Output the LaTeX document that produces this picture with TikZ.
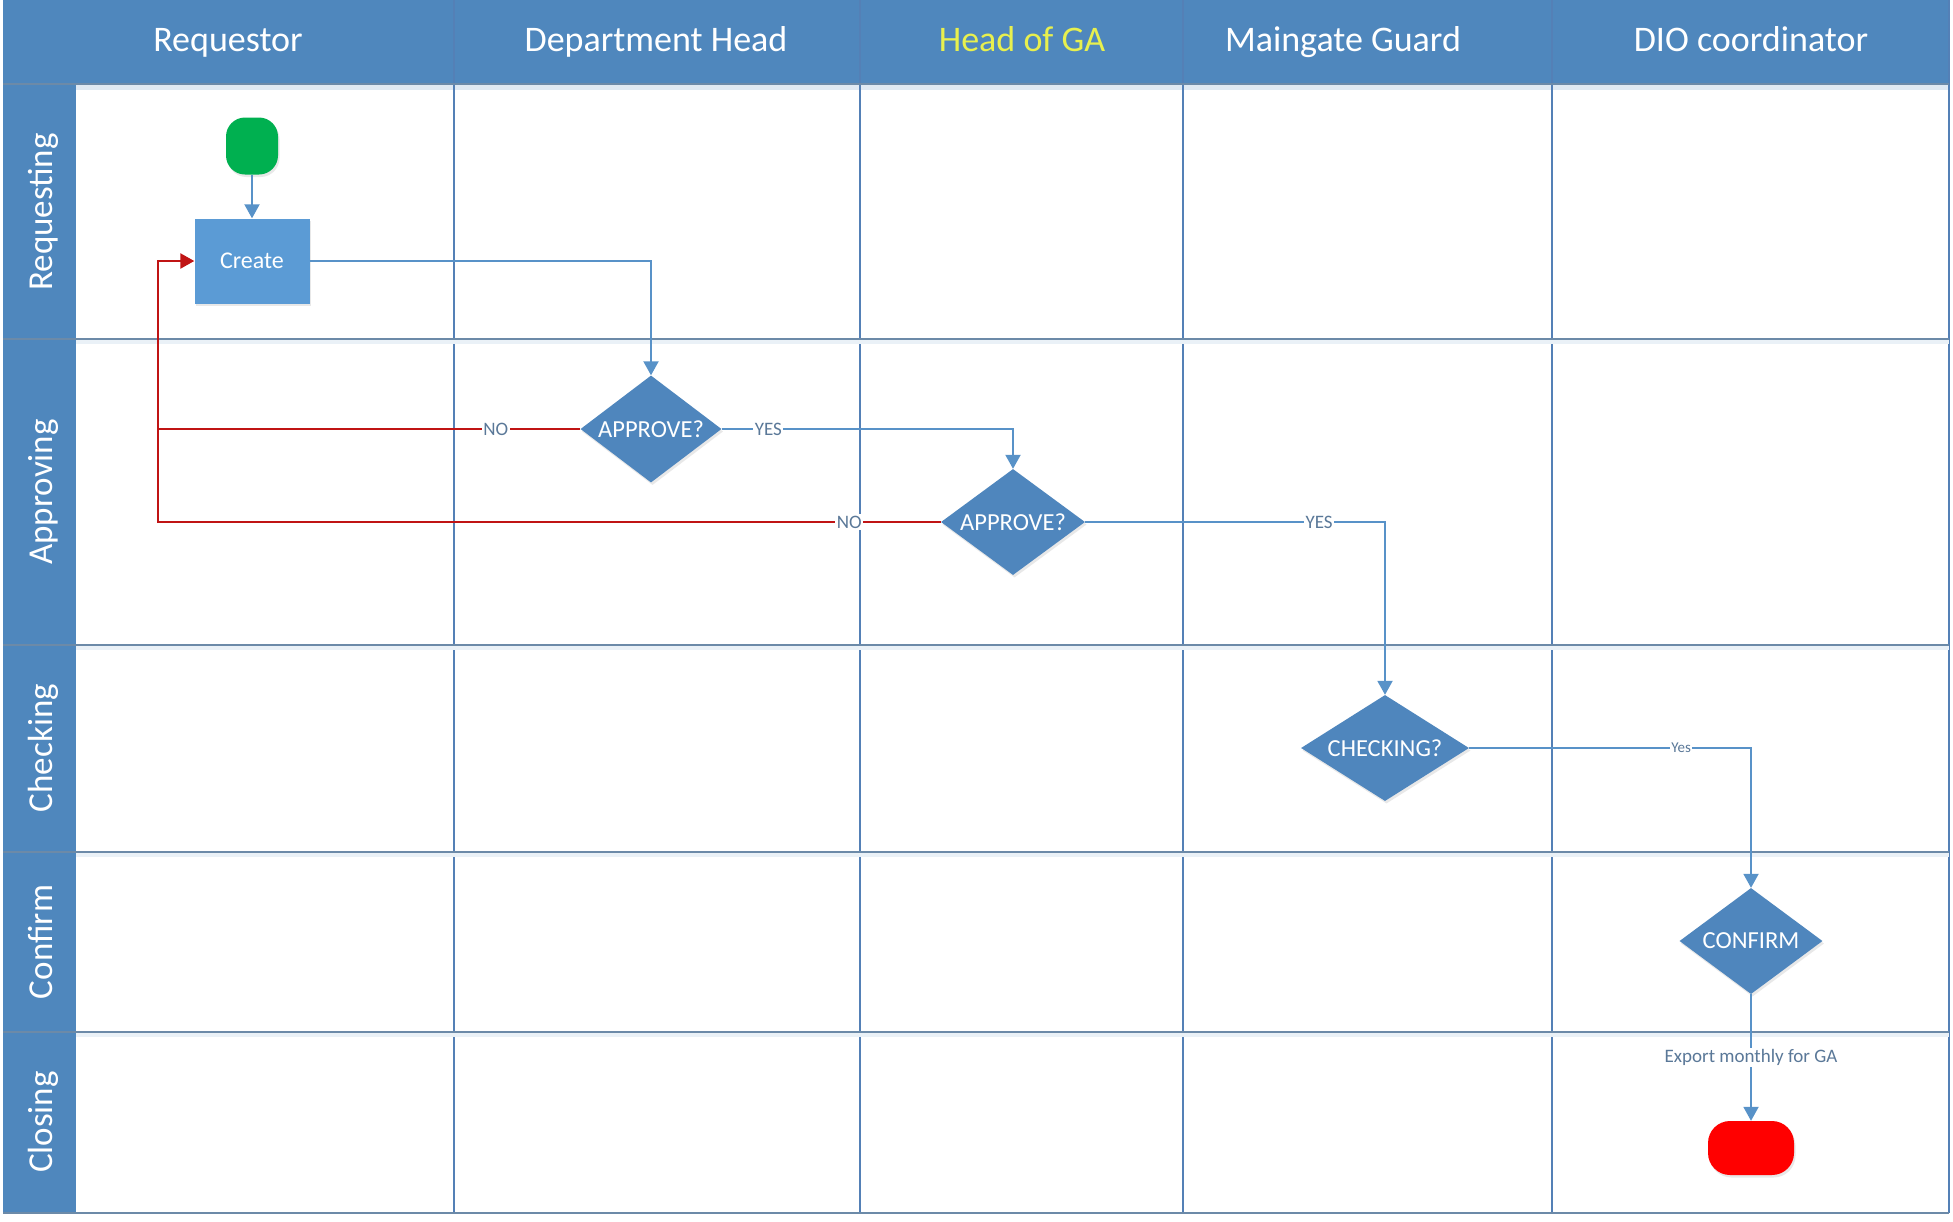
\documentclass[tikz,border=0pt]{standalone}
\usepackage{fontspec}
\setmainfont{Carlito}
\usetikzlibrary{shapes.geometric,arrows.meta,shadows}
\definecolor{hdr}{RGB}{79,135,189}
\definecolor{dfill}{RGB}{79,134,189}
\definecolor{bfill}{RGB}{91,155,213}
\definecolor{conn}{RGB}{88,146,200}
\definecolor{vline}{RGB}{84,128,182}
\definecolor{hline}{RGB}{108,138,168}
\definecolor{nored}{RGB}{192,20,20}
\definecolor{gatxt}{RGB}{232,240,78}
\definecolor{lbltxt}{RGB}{90,120,152}
\definecolor{startg}{RGB}{0,176,80}
\definecolor{endr}{RGB}{255,0,0}
\tikzset{
  hdrtext/.style={text=white,font=\fontsize{36}{40}\selectfont,anchor=base},
  rowtext/.style={text=white,font=\fontsize{35}{40}\selectfont,rotate=90,anchor=base},
  softshadow/.style={drop shadow={shadow xshift=1.5pt,shadow yshift=-2.5pt,opacity=0.15,fill=black!60}},
  decision/.style={diamond,fill=dfill,text=white,inner sep=0pt,font=\fontsize{24.5}{28}\selectfont,softshadow},
  procbox/.style={rectangle,fill=bfill,text=white,font=\fontsize{24}{28}\selectfont,minimum width=115pt,minimum height=85pt,softshadow},
  terminal/.style={rectangle,draw=none,inner sep=0pt,softshadow},
  flow/.style={draw=conn,line width=2pt,-{Triangle[width=15pt,length=14pt]}},
  noflow/.style={draw=nored,line width=2.5pt},
  lbl/.style={fill=white,text=lbltxt,inner sep=1.5pt,font=\fontsize{19}{22}\selectfont},
  smalllbl/.style={fill=white,text=lbltxt,inner sep=1pt,font=\fontsize{15}{18}\selectfont},
}
\begin{document}
\begin{tikzpicture}[x=1pt,y=-1pt]
\useasboundingbox (0,0) rectangle (1953,1221);
\fill[white] (0,0) rectangle (1953,1221);
% header and left band
\fill[hdr] (3,0) rectangle (1949,84);
\fill[hdr] (3,84) rectangle (76,1213);
% soft shade below header
\fill[hdr!18] (76,84) rectangle (1949,90);
% vertical grid lines
\foreach \xx in {454,860,1183,1552}{
  \draw[vline,line width=1.4pt] (\xx,0) -- (\xx,1213);
}
\draw[vline,line width=1.6pt] (1949,0) -- (1949,1213);
% horizontal grid lines
\foreach \yy in {339,645,852,1032}{
  \fill[hdr!12] (76,\yy) rectangle (1949,\yy+5);
  \draw[hline,line width=2.2pt] (3,\yy) -- (1949,\yy);
}
\draw[hline,line width=2.2pt] (3,1213) -- (1949,1213);
\draw[hline,line width=1.2pt] (3,84) -- (1949,84);
% header texts
\node[hdrtext] (hreq) at (228,51) {Requestor};
\node[hdrtext] (hdep) at (656,51) {Department Head};
\node[hdrtext,text=gatxt] (hga) at (1022,51) {Head of GA};
\node[hdrtext] (hmg) at (1343,51) {Maingate Guard};
\node[hdrtext] (hdio) at (1751,51) {DIO coordinator};
% row texts
\node[rowtext] (rreq) at (52,212) {Requesting};
\node[rowtext] (rapp) at (52,492) {Approving};
\node[rowtext] (rchk) at (52,748) {Checking};
\node[rowtext] (rcon) at (52,942) {Confirm};
\node[rowtext] (rclo) at (52,1122) {Closing};
% shapes
\node[terminal,fill=startg,minimum width=52pt,minimum height=57pt,rounded corners=19pt] (start) at (252,146) {};
\node[procbox] (create) at (252,261) {Create};
\node[decision,minimum width=141pt,minimum height=107pt,aspect=1.32] (app1) at (651,429) {APPROVE?};
\node[decision,minimum width=144pt,minimum height=106pt,aspect=1.36] (app2) at (1013,522) {APPROVE?};
\node[decision,minimum width=168pt,minimum height=106pt,aspect=1.6] (chk) at (1385,748) {CHECKING?};
\node[decision,minimum width=143pt,minimum height=106pt,aspect=1.35] (conf) at (1751,941) {CONFIRM};
\node[terminal,fill=endr,minimum width=86pt,minimum height=54pt,rounded corners=22pt] (endn) at (1751,1148) {};
\coordinate (back) at (158,261);
% connectors
\draw[flow] (start) -- (create);
\draw[flow] (create.east) -| (app1.north);
\draw[flow] (app1.east) -| node[lbl,pos=0.08]{YES} (app2.north);
\draw[flow] (app2.east) -| node[lbl,pos=0.39]{YES} (chk.north);
\draw[flow] (chk.east) -| node[smalllbl,pos=0.376]{Yes} (conf.north);
\draw[flow] (conf.south) -- node[lbl,pos=0.5]{Export monthly for GA} (endn.north);
\draw[noflow] (app2.west) -- node[lbl,pos=0.117]{NO} (app2.west -| back) -- (app1.west -| back);
\draw[noflow,-{Triangle[width=15pt,length=14pt]}] (app1.west) -- node[lbl,pos=0.2]{NO} (app1.west -| back) |- (create.west);
\end{tikzpicture}
\end{document}
